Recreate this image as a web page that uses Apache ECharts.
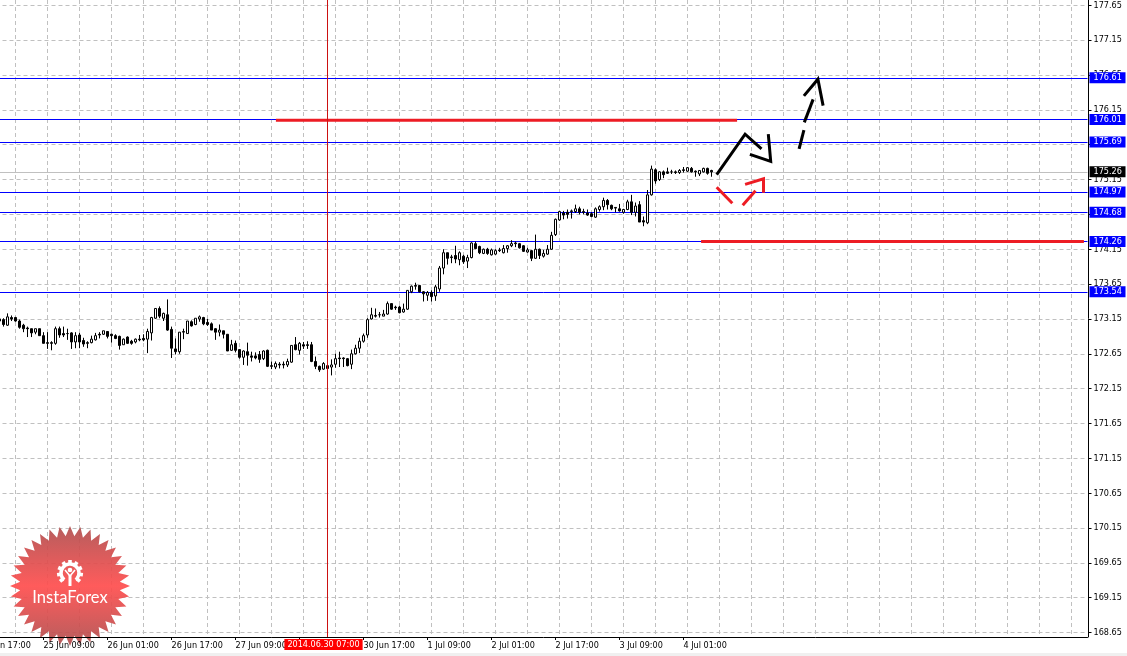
<!DOCTYPE html>
<html><head><meta charset="utf-8">
<style>html,body{margin:0;padding:0;background:#fff}#c{width:1127px;height:656px}</style>
<script src="https://cdn.jsdelivr.net/npm/echarts@6/dist/echarts.min.js"></script>
</head><body><div id="c"></div>
<script>
const yTickLabels=[177.65,177.15,176.65,176.15,175.65,175.15,174.65,174.15,173.65,173.15,172.65,172.15,171.65,171.15,170.65,170.15,169.65,169.15,168.65];
const xTickLabels=['24 Jun 17:00','25 Jun 09:00','26 Jun 01:00','26 Jun 17:00','27 Jun 09:00','30 Jun 01:00','30 Jun 17:00','1 Jul 09:00','2 Jul 01:00','2 Jul 17:00','3 Jul 09:00','4 Jul 01:00'];
const open=[173.15,173.14,173.06,173.17,173.17,173.12,173.06,173.02,173.01,172.96,173.01,172.91,172.81,172.81,172.80,173.01,172.94,172.94,172.95,172.82,172.92,172.84,172.81,172.81,172.85,172.93,172.93,172.97,172.93,172.91,172.90,172.78,172.89,172.83,172.82,172.86,172.87,172.86,172.95,173.16,173.30,173.16,173.21,173.00,172.72,172.68,172.96,
172.94,173.11,173.07,173.15,173.17,173.10,173.08,173.01,172.96,172.98,172.93,172.70,172.80,172.71,172.60,172.68,172.62,172.62,172.64,172.58,172.70,172.48,172.46,172.50,172.50,172.49,172.53,172.78,172.70,172.78,172.78,172.78,172.54,172.47,172.43,172.48,172.46,172.50,172.59,172.59,172.58,172.50,172.65,172.73,172.83,172.92,
173.15,173.20,173.21,173.19,173.22,173.37,173.32,173.32,173.25,173.29,173.54,173.63,173.63,173.54,173.49,173.53,173.48,173.58,173.88,174.10,174.04,174.06,174.00,174.05,173.98,174.03,174.23,174.19,174.09,174.15,174.07,174.08,174.14,174.10,174.16,174.20,174.24,174.23,174.20,174.11,174.13,174.02,174.15,174.05,
174.08,174.15,174.36,174.57,174.67,174.68,174.69,174.69,174.73,174.69,174.67,174.66,174.61,174.72,174.76,174.85,174.78,174.75,174.73,174.68,174.72,174.83,174.68,174.79,174.56,174.53,174.93,175.29,175.15,175.26,175.26,175.26,175.26,175.25,175.29,175.27,175.31,175.27,175.23,175.26,175.31,175.28];
const close=[173.12,173.07,173.18,173.15,173.12,173.03,173.01,173.01,172.95,173.01,172.91,172.80,172.80,172.80,173.01,172.92,172.92,172.94,172.82,172.91,172.82,172.79,172.80,172.86,172.91,172.92,172.98,172.90,172.91,172.87,172.77,172.86,172.80,172.80,172.86,172.85,172.85,172.97,173.17,173.30,173.19,173.23,172.99,172.73,172.68,172.96,172.97,
173.12,173.05,173.16,173.18,173.08,173.07,172.99,172.96,172.99,172.93,172.69,172.78,172.70,172.60,172.69,172.63,172.60,172.59,172.57,172.69,172.47,172.47,172.51,172.49,172.49,172.54,172.77,172.71,172.80,172.76,172.77,172.54,172.47,172.42,172.51,172.44,172.49,172.58,172.58,172.58,172.48,172.65,172.73,172.83,172.91,173.14,
173.21,173.19,173.21,173.22,173.37,173.29,173.31,173.24,173.29,173.56,173.62,173.62,173.54,173.51,173.53,173.47,173.61,173.88,174.10,174.02,174.03,174.01,174.10,173.97,174.03,174.24,174.16,174.10,174.15,174.09,174.14,174.13,174.13,174.16,174.20,174.23,174.23,174.17,174.12,174.14,174.02,174.15,174.06,174.09,
174.15,174.35,174.58,174.69,174.64,174.65,174.70,174.73,174.68,174.68,174.64,174.62,174.73,174.76,174.85,174.79,174.73,174.74,174.70,174.72,174.83,174.68,174.77,174.54,174.54,174.93,175.30,175.13,175.26,175.22,175.24,175.26,175.25,175.28,175.28,175.32,175.26,175.26,175.28,175.31,175.24,175.26];
const low=[173.11,173.04,173.05,173.12,173.11,173.01,172.96,172.89,172.89,172.93,172.91,172.80,172.72,172.70,172.78,172.88,172.89,172.85,172.72,172.73,172.73,172.75,172.73,172.80,172.84,172.87,172.92,172.87,172.81,172.86,172.71,172.78,172.79,172.78,172.80,172.83,172.83,172.66,172.84,173.15,173.16,173.12,172.98,172.59,172.64,172.65,172.86,
172.94,173.04,173.06,173.11,173.06,173.05,172.99,172.85,172.90,172.87,172.69,172.69,172.67,172.58,172.49,172.48,172.54,172.57,172.52,172.56,172.46,172.43,172.43,172.44,172.44,172.46,172.52,172.70,172.64,172.72,172.72,172.53,172.43,172.39,172.42,172.42,172.34,172.45,172.46,172.46,172.47,172.43,172.64,172.66,172.81,172.88,
173.14,173.17,173.17,173.19,173.21,173.28,173.28,173.23,173.24,173.28,173.52,173.57,173.53,173.40,173.41,173.40,173.41,173.54,173.79,173.93,173.95,173.95,173.92,173.94,173.88,174.02,174.15,174.08,174.08,174.07,174.06,174.07,174.11,174.09,174.10,174.18,174.18,174.16,174.11,174.10,173.98,174.01,174.01,174.03,
174.07,174.14,174.34,174.56,174.58,174.59,174.59,174.67,174.65,174.65,174.63,174.61,174.60,174.69,174.71,174.72,174.71,174.68,174.69,174.66,174.71,174.64,174.62,174.54,174.48,174.51,174.92,175.09,175.13,175.17,175.23,175.23,175.23,175.23,175.25,175.26,175.25,175.19,175.20,175.25,175.22,175.19];
const high=[173.18,173.16,173.23,173.20,173.18,173.14,173.08,173.04,173.01,173.01,173.01,172.96,172.96,172.83,173.04,173.04,173.04,173.01,172.96,172.96,172.95,172.88,172.83,172.91,172.95,172.96,172.98,172.97,172.94,172.93,172.91,172.87,172.90,172.85,172.87,172.92,172.93,173.01,173.18,173.30,173.33,173.24,173.43,173.04,172.87,172.96,173.01,
173.12,173.13,173.16,173.20,173.18,173.15,173.10,173.02,173.07,172.98,172.93,172.85,172.84,172.71,172.70,172.81,172.68,172.67,172.69,172.70,172.71,172.54,172.54,172.53,172.54,172.58,172.77,172.89,172.82,172.82,172.83,172.82,172.61,172.48,172.53,172.52,172.57,172.65,172.68,172.60,172.59,172.71,172.78,172.88,172.94,173.16,
173.31,173.30,173.25,173.28,173.40,173.37,173.34,173.34,173.37,173.56,173.63,173.67,173.63,173.55,173.55,173.56,173.64,173.91,174.15,174.10,174.07,174.20,174.12,174.07,174.07,174.25,174.26,174.20,174.16,174.17,174.16,174.15,174.17,174.21,174.21,174.28,174.26,174.24,174.21,174.17,174.14,174.36,174.16,174.14,
174.21,174.40,174.59,174.70,174.70,174.72,174.72,174.79,174.76,174.73,174.72,174.68,174.75,174.78,174.89,174.87,174.79,174.75,174.80,174.73,174.86,174.93,174.82,174.84,174.62,175.00,175.35,175.31,175.27,175.28,175.32,175.29,175.28,175.30,175.33,175.33,175.33,175.28,175.28,175.32,175.32,175.29];
const levels=[176.61,176.01,175.69,174.97,174.68,174.26,173.54];
const lastPrice=175.26;
const redBars=[[[77.1,176.0],[192.4,176.0]],[[183.4,174.26],[279.1,174.26]]];
const blackStrokes=[
 [[187.3,175.22],[194.4,175.80],[198.5,175.59]],
 [[200.2,175.80],[200.8,175.41],[195.6,175.51]],
 [[207.9,175.59],[209.1,175.86]],
 [[209.2,175.97],[211.4,176.30]],
 [[209.1,176.35],[212.6,176.59],[213.9,176.21]]];
const redStrokes=[
 [[187.3,175.04],[191.2,174.81]],
 [[193.8,174.78],[197.0,174.99]],
 [[194.4,175.08],[199.0,175.16],[199.0,174.96]]];
const crossBar=90, crossLabel='2014.06.30 07:00';

const FIRST=8, TOTAL=281;
const isLabelIndex=n=>(n-3)%16===0&&(n-3)/16<xTickLabels.length;
const categories=Array.from({length:TOTAL},(_,n)=>isLabelIndex(n)?xTickLabels[(n-3)/16]:'');
const candles=categories.map((_,n)=>{const k=n-FIRST;return k>=0&&k<open.length?[open[k],close[k],low[k],high[k]]:'-';});
const font='"DejaVu Sans Condensed","Liberation Sans",Arial,sans-serif', fs=9;
const gridDash={color:'#c0c0c0',width:1,type:[4,3]};
const stroke=(pts,color,width)=>({type:'line',xAxisIndex:1,data:pts,showSymbol:false,symbol:'none',silent:true,animation:false,clip:false,z:4,lineStyle:{color,width,cap:'butt',join:'miter'}});

function star(cx,cy,ro,ri,n){const p=[];for(let i=0;i<2*n;i++){const a=Math.PI*i/n,r=i%2?ri:ro;p.push([cx+r*Math.sin(a),cy-r*Math.cos(a)]);}return p;}
const gcx=70,gcy=573;
const teeth=[];for(let i=0;i<9;i++){const a=(-130+i*32.5)*Math.PI/180;teeth.push({type:'rect',z:2,silent:true,shape:{x:gcx-1.8,y:gcy-13,width:3.6,height:4},rotation:-a,originX:gcx,originY:gcy,style:{fill:'#fff'}});}
const logo=[
 {type:'polygon',z:1,silent:true,shape:{points:star(70,586,60,50,36)},style:{opacity:.92,fill:{type:'linear',x:0,y:0,x2:0,y2:1,colorStops:[{offset:0,color:'#b04f4f'},{offset:.5,color:'#ff4d4d'},{offset:1,color:'#b04f4f'}]}}},
 {type:'arc',z:2,silent:true,shape:{cx:gcx,cy:gcy,r:9,startAngle:Math.PI*.72,endAngle:Math.PI*.28},style:{fill:null,stroke:'#fff',lineWidth:3.5}},
 ...teeth,
 {type:'circle',z:2,silent:true,shape:{cx:gcx,cy:gcy-3,r:2.3},style:{fill:'#fff'}},
 {type:'rect',z:2,silent:true,shape:{x:gcx-1.5,y:gcy+2,width:3,height:11},style:{fill:'#fff'}},
 {type:'polyline',z:2,silent:true,shape:{points:[[gcx-5,gcy-3],[gcx,gcy+3],[gcx+5,gcy-3]]},style:{fill:null,stroke:'#fff',lineWidth:1.6}},
 {type:'text',z:2,silent:true,x:70,y:598,style:{text:'InstaForex',fill:'#fff',font:'16.5px Lato,"Open Sans",sans-serif',textAlign:'center',textVerticalAlign:'middle'}},
 {type:'rect',z:0,silent:true,shape:{x:0,y:653,width:1127,height:3},style:{fill:'#f0f0f0'}}
];

const levelLine=(v,bg,lineColor)=>({yAxis:v,lineStyle:{color:lineColor,width:1,type:'solid'},label:{show:true,position:'end',distance:2,formatter:v.toFixed(2),color:'#fff',backgroundColor:bg,fontFamily:font,fontSize:fs,width:32,height:10,lineHeight:11,padding:[1,0,0,4],align:'left',verticalAlign:'middle'}});

const chart=echarts.init(document.getElementById('c'),null,{renderer:'canvas'});
chart.setOption({
 animation:false,backgroundColor:'#fff',
 grid:{left:-32.5,top:0,width:1120,height:637,containLabel:false,outerBoundsMode:'none'},
 graphic:{elements:logo},
 xAxis:[
  {type:'category',data:categories,boundaryGap:false,position:'bottom',z:3,
   axisLine:{onZero:false,lineStyle:{color:'#000',width:1}},
   axisTick:{length:3,interval:n=>isLabelIndex(n),lineStyle:{color:'#000'}},
   axisLabel:{interval:n=>isLabelIndex(n),align:'left',margin:4,color:'#000',fontFamily:font,fontSize:fs,showMinLabel:true,hideOverlap:false},
   splitLine:{show:false}},
  {type:'value',min:0,max:280,show:false,splitLine:{show:false}},
  {type:'category',data:categories,boundaryGap:false,position:'bottom',z:0,
   axisLine:{show:false},axisTick:{show:false},axisLabel:{show:false},
   splitLine:{show:true,interval:n=>n%8===4,lineStyle:gridDash}}
 ],
 yAxis:{type:'value',position:'right',offset:1,min:168.5868,max:177.7258,z:0,
  axisLine:{show:true,onZero:false,lineStyle:{color:'#000',width:1}},
  axisTick:{show:true,length:3,customValues:yTickLabels,lineStyle:{color:'#000'}},
  axisLabel:{customValues:yTickLabels,margin:5,color:'#000',fontFamily:font,fontSize:fs,formatter:v=>v.toFixed(2)},
  splitLine:{show:true,lineStyle:gridDash}},
 series:[
  {type:'candlestick',data:candles,barWidth:2,silent:true,animation:false,clip:false,z:3,
   itemStyle:{color:'#fff',color0:'#000',borderColor:'#000',borderColor0:'#000',borderWidth:1},
   markLine:{silent:true,symbol:'none',animation:false,z:2,data:[
     levelLine(lastPrice,'#000','#c0c0c0'),
     ...levels.map(v=>levelLine(v,'#0000ff','#0000ff'))]}},
  ...redBars.map(p=>stroke(p,'#ed1c24',3)),
  ...blackStrokes.map(p=>stroke(p,'#000',3)),
  ...redStrokes.map(p=>stroke(p,'#ed1c24',3)),
  {type:'line',xAxisIndex:1,data:[],silent:true,animation:false,z:5,
   markLine:{silent:true,symbol:'none',animation:false,z:5,data:[{xAxis:crossBar,
    lineStyle:{color:'#cc1111',width:1,type:'solid'},
    label:{show:true,position:'start',distance:2,offset:[-4,0],formatter:crossLabel,color:'#fff',backgroundColor:'#ff0000',fontFamily:font,fontSize:fs,padding:[1,3,1,3]}}]}}
 ]
});
</script></body></html>
